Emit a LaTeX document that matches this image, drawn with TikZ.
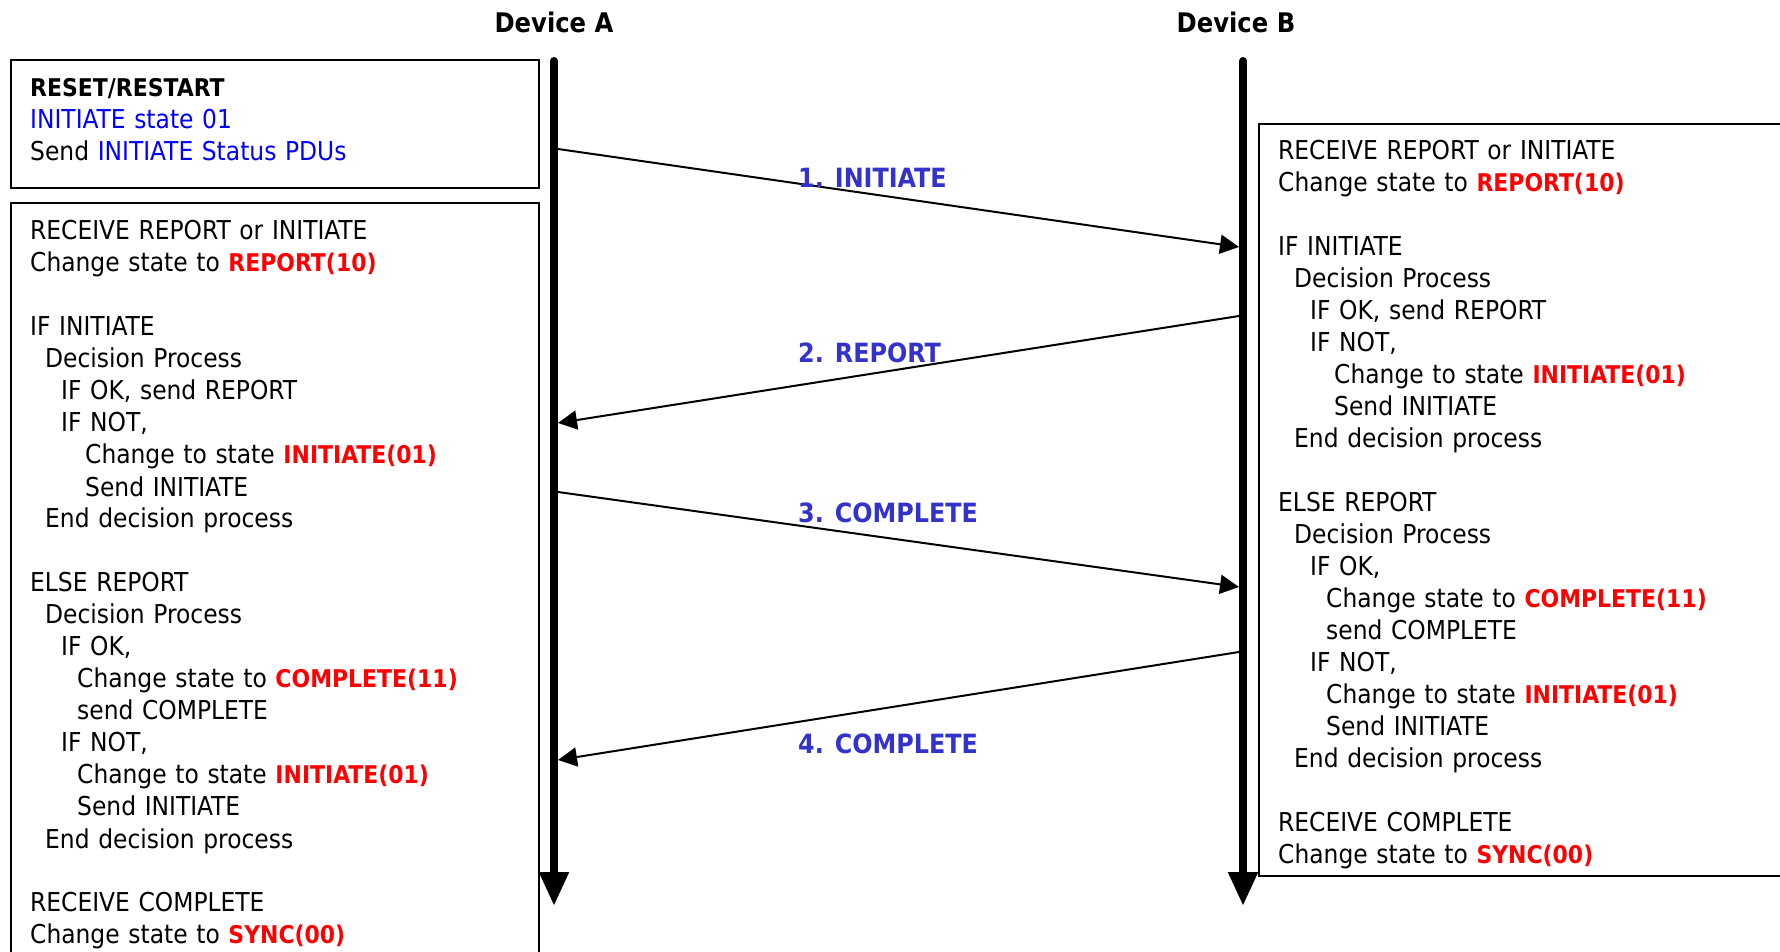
\documentclass[tikz,border=0pt]{standalone}
\usepackage{fontspec}
\setmainfont{DejaVu Sans Condensed}
\usetikzlibrary{arrows.meta}

\definecolor{stblue}{RGB}{0,0,255}
\definecolor{msgblue}{RGB}{51,51,204}
\definecolor{stred}{RGB}{255,0,0}
\newcommand{\boldtext}[1]{{\fontsize{24.4}{32}\selectfont\bfseries #1}}
\newcommand{\redstate}[1]{\textcolor{stred}{\boldtext{#1}}}
\newcommand{\lvl}[1]{\hspace*{#1pt}}

\begin{document}
\begin{tikzpicture}[x=1pt,y=-1pt]

\tikzset{box/.style = {draw, line width=2pt, anchor=north west, inner sep=0pt}}
\tikzset{body/.style = {anchor=base west, inner sep=0pt, text width=480pt, align=left, font=\fontsize{26}{32}\selectfont}}
\tikzset{lifeline/.style = {line width=8pt, line cap=round, -{Triangle[length=34pt,width=28pt]}}}
\tikzset{msg/.style = {line width=2pt, -{Triangle[length=19pt,width=19pt]}}}
\tikzset{msglabel/.style = {anchor=base west, inner sep=0pt, text=msgblue, font=\fontsize{26.5}{32}\selectfont\bfseries}}
\tikzset{device/.style = {anchor=base, inner sep=0pt, font=\fontsize{27}{32}\selectfont\bfseries}}

\clip (0,0) rectangle (1780,952);

%devices
\node[device] (devA) at (554,33) {Device A};
\node[device] (devB) at (1236,33) {Device B};
\coordinate (topA) at (554,61);
\coordinate (endA) at (554,906);
\coordinate (topB) at (1243,61);
\coordinate (endB) at (1243,906);
\draw[lifeline] (topA) -- (endA);
\draw[lifeline] (topB) -- (endB);

%boxes
\node[box, minimum width=528pt, minimum height=128pt] (reset) at (10,59) {};
\node[box, minimum width=528pt, minimum height=790pt] (boxA) at (10,202) {};
\node[box, minimum width=560pt, minimum height=752pt] (boxB) at (1258,123) {};

%texts
\node[body] (resetText) at (30,97) {\boldtext{RESET/RESTART}\\
\textcolor{stblue}{INITIATE state 01}\\
Send \textcolor{stblue}{INITIATE Status PDUs}};

\node[body] (textA) at (30,240) {RECEIVE REPORT or INITIATE\\
Change state to \redstate{REPORT(10)}\\[32pt]
IF INITIATE\\
\lvl{15}Decision Process\\
\lvl{31}IF OK, send REPORT\\
\lvl{31}IF NOT,\\
\lvl{55}Change to state \redstate{INITIATE(01)}\\
\lvl{55}Send INITIATE\\
\lvl{15}End decision process\\[32pt]
ELSE REPORT\\
\lvl{15}Decision Process\\
\lvl{31}IF OK,\\
\lvl{47}Change state to \redstate{COMPLETE(11)}\\
\lvl{47}send COMPLETE\\
\lvl{31}IF NOT,\\
\lvl{47}Change to state \redstate{INITIATE(01)}\\
\lvl{47}Send INITIATE\\
\lvl{15}End decision process\\[32pt]
RECEIVE COMPLETE\\
Change state to \redstate{SYNC(00)}};

\node[body] (textB) at (1278,160) {RECEIVE REPORT or INITIATE\\
Change state to \redstate{REPORT(10)}\\[32pt]
IF INITIATE\\
\lvl{16}Decision Process\\
\lvl{32}IF OK, send REPORT\\
\lvl{32}IF NOT,\\
\lvl{56}Change to state \redstate{INITIATE(01)}\\
\lvl{56}Send INITIATE\\
\lvl{16}End decision process\\[32pt]
ELSE REPORT\\
\lvl{16}Decision Process\\
\lvl{32}IF OK,\\
\lvl{48}Change state to \redstate{COMPLETE(11)}\\
\lvl{48}send COMPLETE\\
\lvl{32}IF NOT,\\
\lvl{48}Change to state \redstate{INITIATE(01)}\\
\lvl{48}Send INITIATE\\
\lvl{16}End decision process\\[32pt]
RECEIVE COMPLETE\\
Change state to \redstate{SYNC(00)}};

%messages
\coordinate (A1) at (558,149);
\coordinate (B1) at (1239,247);
\coordinate (B2) at (1239,316);
\coordinate (A2) at (558,423);
\coordinate (A3) at (558,492);
\coordinate (B3) at (1239,587);
\coordinate (B4) at (1239,652);
\coordinate (A4) at (558,760);
\draw[msg] (A1) -- (B1);
\draw[msg] (B2) -- (A2);
\draw[msg] (A3) -- (B3);
\draw[msg] (B4) -- (A4);
\node[msglabel] (m1) at (798,188) {1. INITIATE};
\node[msglabel] (m2) at (798,362) {2. REPORT};
\node[msglabel] (m3) at (798,522) {3. COMPLETE};
\node[msglabel] (m4) at (798,753) {4. COMPLETE};

\end{tikzpicture}
\end{document}
